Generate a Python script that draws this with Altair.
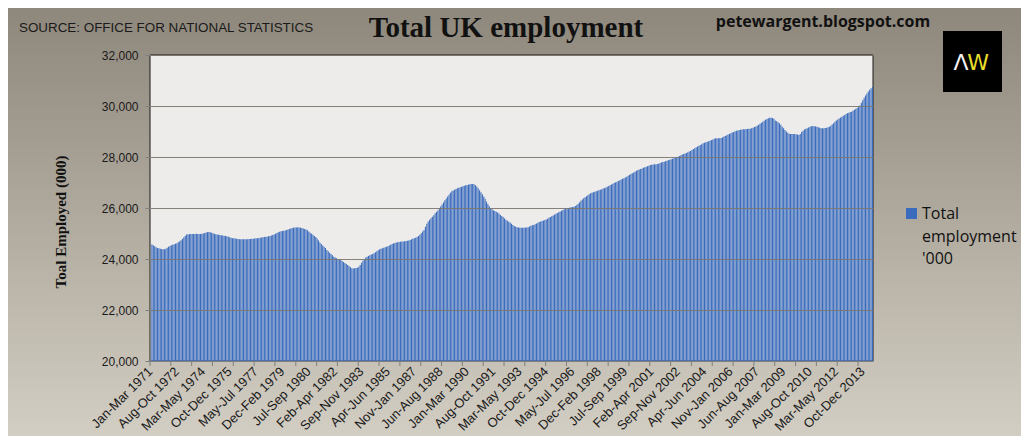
import altair as alt
import pandas as pd

MONTHS = ["Jan", "Feb", "Mar", "Apr", "May", "Jun", "Jul", "Aug", "Sep", "Oct", "Nov", "Dec"]
START_YEAR = 1971

# Total UK employment ('000), rolling three-month periods, Jan-Mar 1971 .. May-Jul 2014
employment = [
    24590, 24570, 24540, 24500, 24460, 24430, 24420, 24400, 24390, 24380, 24380, 24400,  # 1971
    24440, 24480, 24510, 24540, 24560, 24580, 24600, 24620, 24660, 24700, 24740, 24790,  # 1972
    24850, 24910, 24960, 24970, 24975, 24980, 24980, 24980, 24985, 24990, 24985, 24980,  # 1973
    24980, 24990, 25000, 25020, 25040, 25055, 25060, 25050, 25030, 25010, 24990, 24970,  # 1974
    24960, 24950, 24940, 24930, 24920, 24910, 24900, 24890, 24870, 24850, 24830, 24810,  # 1975
    24810, 24800, 24790, 24780, 24775, 24770, 24770, 24770, 24770, 24775, 24775, 24780,  # 1976
    24785, 24790, 24795, 24800, 24810, 24815, 24820, 24830, 24840, 24850, 24860, 24870,  # 1977
    24875, 24890, 24905, 24920, 24940, 24960, 24990, 25020, 25050, 25070, 25090, 25100,  # 1978
    25110, 25120, 25137, 25160, 25180, 25200, 25215, 25228, 25235, 25240, 25243, 25240,  # 1979
    25230, 25215, 25200, 25180, 25160, 25130, 25080, 25030, 24990, 24950, 24900, 24860,  # 1980
    24800, 24730, 24650, 24590, 24530, 24480, 24430, 24350, 24300, 24250, 24200, 24150,  # 1981
    24090, 24060, 24030, 24000, 23980, 23960, 23920, 23880, 23840, 23800, 23765, 23730,  # 1982
    23680, 23640, 23630, 23635, 23645, 23660, 23700, 23760, 23850, 23930, 24000, 24060,  # 1983
    24090, 24120, 24150, 24180, 24200, 24225, 24260, 24300, 24340, 24380, 24400, 24420,  # 1984
    24440, 24460, 24480, 24500, 24530, 24560, 24590, 24615, 24630, 24645, 24660, 24670,  # 1985
    24678, 24685, 24690, 24700, 24710, 24718, 24730, 24750, 24770, 24790, 24812, 24830,  # 1986
    24860, 24900, 24950, 25010, 25080, 25140, 25260, 25380, 25470, 25540, 25600, 25660,  # 1987
    25720, 25790, 25850, 25900, 25980, 26060, 26140, 26220, 26300, 26370, 26450, 26520,  # 1988
    26600, 26660, 26690, 26720, 26750, 26770, 26790, 26810, 26830, 26850, 26870, 26890,  # 1989
    26900, 26915, 26930, 26940, 26945, 26930, 26890, 26840, 26770, 26700, 26620, 26540,  # 1990
    26450, 26360, 26250, 26160, 26070, 25990, 25950, 25910, 25880, 25850, 25820, 25780,  # 1991
    25725, 25690, 25650, 25590, 25540, 25500, 25460, 25430, 25380, 25330, 25290, 25265,  # 1992
    25245, 25235, 25228, 25225, 25225, 25230, 25235, 25240, 25250, 25270, 25300, 25325,  # 1993
    25335, 25360, 25390, 25420, 25450, 25470, 25490, 25510, 25530, 25550, 25580, 25620,  # 1994
    25650, 25680, 25710, 25740, 25770, 25800, 25830, 25860, 25890, 25920, 25950, 25980,  # 1995
    25988, 26000, 26015, 26030, 26040, 26051, 26080, 26120, 26170, 26220, 26280, 26330,  # 1996
    26380, 26420, 26460, 26500, 26540, 26576, 26600, 26620, 26640, 26660, 26680, 26700,  # 1997
    26720, 26740, 26760, 26780, 26800, 26830, 26860, 26890, 26920, 26950, 26980, 27010,  # 1998
    27031, 27060, 27090, 27120, 27150, 27170, 27200, 27230, 27260, 27300, 27330, 27360,  # 1999
    27390, 27420, 27460, 27490, 27510, 27530, 27550, 27580, 27600, 27620, 27640, 27660,  # 2000
    27686, 27695, 27705, 27712, 27720, 27725, 27740, 27760, 27780, 27800, 27816, 27830,  # 2001
    27850, 27870, 27890, 27910, 27930, 27950, 27970, 27990, 28012, 28040, 28070, 28095,  # 2002
    28118, 28140, 28160, 28190, 28215, 28240, 28275, 28310, 28345, 28380, 28410, 28440,  # 2003
    28470, 28500, 28537, 28560, 28580, 28600, 28620, 28639, 28665, 28690, 28715, 28733,  # 2004
    28733, 28733, 28733, 28745, 28770, 28800, 28824, 28850, 28880, 28910, 28935, 28960,  # 2005
    28985, 29005, 29025, 29040, 29055, 29070, 29080, 29086, 29090, 29095, 29100, 29105,  # 2006
    29110, 29130, 29150, 29175, 29200, 29230, 29260, 29300, 29340, 29380, 29420, 29460,  # 2007
    29490, 29515, 29535, 29541, 29530, 29500, 29430, 29400, 29360, 29320, 29260, 29190,  # 2008
    29125, 29060, 29000, 28950, 28910, 28900, 28900, 28900, 28900, 28890, 28880, 28865,  # 2009
    28900, 28980, 29030, 29080, 29110, 29130, 29160, 29190, 29210, 29215, 29210, 29200,  # 2010
    29188, 29170, 29150, 29130, 29125, 29130, 29140, 29149, 29165, 29190, 29230, 29270,  # 2011
    29320, 29380, 29430, 29470, 29510, 29545, 29580, 29615, 29650, 29690, 29720, 29740,  # 2012
    29760, 29776, 29810, 29850, 29890, 29920, 29980, 30020, 30130, 30230, 30320, 30410,  # 2013
    30490, 30570, 30640, 30700, 30750,                                                   # 2014
]


def period_label(i):
    m = i % 12
    y = START_YEAR + i // 12
    end_y = y + (1 if m + 2 >= 12 else 0)
    return f"{MONTHS[m]}-{MONTHS[(m + 2) % 12]} {end_y}"


periods = [period_label(i) for i in range(len(employment))]
LABEL_STEP = 19
TICK_STEP = 15
tick_labels = periods[::LABEL_STEP]
y_ticks = [20000, 22000, 24000, 26000, 28000, 30000, 32000]

df = pd.DataFrame({"period": periods, "value": employment, "idx": list(range(len(employment)))})
one = pd.DataFrame({"k": [0]})

W, H = 723, 306
BAR_COLOR = "#3a6bbd"

xscale = alt.Scale(domain=periods, paddingInner=0.22, paddingOuter=0)

bg = alt.Chart(one).mark_rect(
    color=alt.Gradient(
        gradient="linear",
        stops=[alt.GradientStop(offset=0, color="#8e877b"), alt.GradientStop(offset=1, color="#d3cec3")],
        x1=0, x2=0, y1=0, y2=1,
    )
).encode(x=alt.value(-142), x2=alt.value(W + 148), y=alt.value(-47), y2=alt.value(H + 75))

plot_bg = alt.Chart(one).mark_rect(fill="#edecea", stroke="#1a1a1a", strokeWidth=1).encode(
    x=alt.value(0), x2=alt.value(W), y=alt.value(0), y2=alt.value(H)
)

bars = alt.Chart(df).mark_bar(color=BAR_COLOR).encode(
    x=alt.X(
        "period:N", sort=None, scale=xscale, title=None,
        axis=alt.Axis(
            values=tick_labels, labelAngle=-45, labelAlign="right", labelBaseline="middle",
            labelOverlap=False, ticks=False, domainColor="#7f7f7f", labelFont="Liberation Sans",
            labelFontSize=13, labelColor="#1a1a1a", labelPadding=8, zindex=1,
        ),
    ),
    y=alt.Y(
        "value:Q", scale=alt.Scale(domain=[20000, 32000], nice=False, zero=False), title=None,
        axis=alt.Axis(
            values=y_ticks, format=",.0f", grid=True, gridColor="#7a756d", gridOpacity=0.9,
            tickSize=5, tickColor="#7f7f7f", domainColor="#7f7f7f", labelFont="Liberation Sans",
            labelFontSize=12, labelColor="#1a1a1a", labelPadding=7, zindex=1,
        ),
    ),
    y2=alt.datum(20000),
)

xticks = alt.Chart(df).transform_filter(f"datum.idx % {TICK_STEP} == 0").mark_rule(
    color="#7f7f7f"
).encode(
    x=alt.X("period:N", sort=None, scale=xscale, bandPosition=0),
    y=alt.value(H), y2=alt.value(H + 5),
)


def txt(text, x, y, **kw):
    kw.setdefault("baseline", "alphabetic")
    return alt.Chart(one).mark_text(text=text, **kw).encode(x=alt.value(x), y=alt.value(y))


source = txt("SOURCE: OFFICE FOR NATIONAL STATISTICS", -131, -23, align="left", font="Liberation Sans",
             fontSize=13.4, color="#1a1a1a")
title = txt("Total UK employment", 356, -18, align="center", font="Liberation Serif", fontSize=29,
            fontWeight="bold", color="#111111")
blog = txt("petewargent.blogspot.com", 673, -28, align="center", font="Open Sans", fontSize=16,
           fontWeight="bold", color="#111111")
logo_box = alt.Chart(one).mark_rect(fill="#000000").encode(
    x=alt.value(793), x2=alt.value(852), y=alt.value(-24), y2=alt.value(37)
)
logo_a = txt("Λ", 811, 15, align="center", font="DejaVu Sans", fontSize=22, color="#f2f2f2")
logo_w = txt("W", 828, 15, align="center", font="DejaVu Sans", fontSize=22, color="#e8dc2c")
ytitle = txt("Toal Employed (000)", -89, 167, align="center", baseline="middle", angle=270,
             font="Liberation Serif", fontSize=15, fontWeight="bold", color="#111111")
leg_box = alt.Chart(one).mark_rect(fill=BAR_COLOR).encode(
    x=alt.value(756), x2=alt.value(767), y=alt.value(153), y2=alt.value(164)
)
leg1 = txt("Total", 772, 164, align="left", font="Open Sans", fontSize=16, color="#111111")
leg2 = txt("employment", 772, 187, align="left", font="Open Sans", fontSize=16, color="#111111")
leg3 = txt("'000", 772, 209, align="left", font="Open Sans", fontSize=16, color="#111111")

chart = alt.layer(
    bg, plot_bg, bars, xticks, source, title, blog, logo_box, logo_a, logo_w, ytitle, leg_box, leg1, leg2, leg3
).properties(
    width=W, height=H,
    autosize=alt.AutoSizeParams(type="none"),
    padding={"left": 142, "top": 47, "right": 148, "bottom": 75},
).configure_view(strokeWidth=0)

chart.save("out.html", embed_options={"renderer": "svg", "actions": False})
